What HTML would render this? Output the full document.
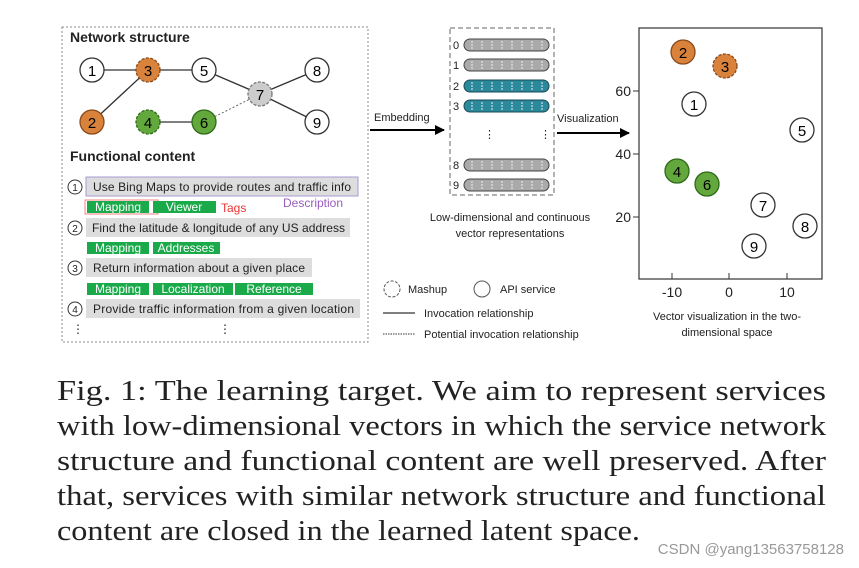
<!DOCTYPE html>
<html><head><meta charset="utf-8"><style>
body{margin:0;background:#fff}
svg{display:block}
.s{font-family:"Liberation Sans",sans-serif}
</style></head><body>
<svg width="859" height="568" viewBox="0 0 859 568" xmlns="http://www.w3.org/2000/svg" class="s">
<defs>
<marker id="ah" markerWidth="10" markerHeight="10" refX="9" refY="5" orient="auto" markerUnits="userSpaceOnUse"><path d="M0,0 L10,5 L0,10 z" fill="#000"/></marker>
</defs>
<rect x="62" y="27" width="306" height="315" fill="none" stroke="#888" stroke-dasharray="2,2"/>
<text x="70" y="42" font-size="14" font-weight="bold" fill="#222">Network structure</text>
<g stroke="#333" stroke-width="1.3">
<line x1="92" y1="70" x2="204" y2="70"/>
<line x1="148" y1="70" x2="92" y2="122"/>
<line x1="148" y1="122" x2="204" y2="122"/>
<line x1="204" y1="70" x2="260" y2="94"/>
<line x1="260" y1="94" x2="317" y2="70"/>
<line x1="260" y1="94" x2="317" y2="122"/>
</g>
<line x1="204" y1="122" x2="260" y2="94" stroke="#666" stroke-dasharray="2,2"/>
<g font-size="15" text-anchor="middle" stroke-width="1.3">
<circle cx="92" cy="70" r="12" fill="#fff" stroke="#333"/><text x="92" y="76">1</text>
<circle cx="148" cy="70" r="12" fill="#d9823b" stroke="#8a4a1a" stroke-dasharray="3,1.5"/><text x="148" y="76">3</text>
<circle cx="204" cy="70" r="12" fill="#fff" stroke="#333"/><text x="204" y="76">5</text>
<circle cx="260" cy="94" r="12" fill="#ccc" stroke="#777" stroke-dasharray="3,1.5"/><text x="260" y="100">7</text>
<circle cx="317" cy="70" r="12" fill="#fff" stroke="#333"/><text x="317" y="76">8</text>
<circle cx="317" cy="122" r="12" fill="#fff" stroke="#333"/><text x="317" y="128">9</text>
<circle cx="92" cy="122" r="12" fill="#d9823b" stroke="#8a4a1a"/><text x="92" y="128">2</text>
<circle cx="148" cy="122" r="12" fill="#62a83c" stroke="#2f6a18" stroke-dasharray="3,1.5"/><text x="148" y="128">4</text>
<circle cx="204" cy="122" r="12" fill="#62a83c" stroke="#2f6a18"/><text x="204" y="128">6</text>
</g>
<text x="70" y="161" font-size="14" font-weight="bold" fill="#222">Functional content</text>
<g font-size="12" fill="#222">
<circle cx="75" cy="187" r="7" fill="none" stroke="#333"/><text x="75" y="191" text-anchor="middle" font-size="10">1</text>
<rect x="86" y="177" width="272" height="19" fill="#ddd" stroke="#a89ad0"/>
<text x="93" y="191" textLength="258">Use Bing Maps to provide routes and traffic info</text>
<rect x="85" y="200" width="73" height="14" fill="none" stroke="#f08080"/>
<rect x="87" y="201" width="62" height="12" fill="#1aaa4a"/><text x="118" y="211" fill="#fff" text-anchor="middle">Mapping</text>
<rect x="153" y="201" width="63" height="12" fill="#1aaa4a"/><text x="184" y="211" fill="#fff" text-anchor="middle">Viewer</text>
<text x="221" y="212" fill="#e33">Tags</text>
<text x="283" y="207" fill="#9a5cc0">Description</text>
<circle cx="75" cy="228" r="7" fill="none" stroke="#333"/><text x="75" y="232" text-anchor="middle" font-size="10">2</text>
<rect x="86" y="218" width="264" height="19" fill="#ddd"/>
<text x="92" y="232" textLength="253">Find the latitude &amp; longitude of any US address</text>
<rect x="87" y="242" width="62" height="12" fill="#1aaa4a"/><text x="118" y="252" fill="#fff" text-anchor="middle">Mapping</text>
<rect x="153" y="242" width="67" height="12" fill="#1aaa4a"/><text x="186" y="252" fill="#fff" text-anchor="middle">Addresses</text>
<circle cx="75" cy="268" r="7" fill="none" stroke="#333"/><text x="75" y="272" text-anchor="middle" font-size="10">3</text>
<rect x="86" y="258" width="226" height="19" fill="#ddd"/>
<text x="93" y="272" textLength="212">Return information about a given place</text>
<rect x="87" y="283" width="62" height="12" fill="#1aaa4a"/><text x="118" y="293" fill="#fff" text-anchor="middle">Mapping</text>
<rect x="153" y="283" width="80" height="12" fill="#1aaa4a"/><text x="193" y="293" fill="#fff" text-anchor="middle">Localization</text>
<rect x="235" y="283" width="78" height="12" fill="#1aaa4a"/><text x="274" y="293" fill="#fff" text-anchor="middle">Reference</text>
<circle cx="75" cy="309" r="7" fill="none" stroke="#333"/><text x="75" y="313" text-anchor="middle" font-size="10">4</text>
<rect x="86" y="299" width="274" height="19" fill="#ddd"/>
<text x="93" y="313" textLength="261">Provide traffic information from a given location</text>
<text x="72" y="333" font-size="12">⋮</text><text x="219" y="333" font-size="12">⋮</text>
</g>
<line x1="370" y1="130" x2="444" y2="130" stroke="#000" stroke-width="2" marker-end="url(#ah)"/>
<text x="374" y="121" font-size="11" fill="#222">Embedding</text>
<line x1="557" y1="133" x2="629" y2="133" stroke="#000" stroke-width="2" marker-end="url(#ah)"/>
<text x="557" y="122" font-size="11" fill="#222">Visualization</text>
<rect x="450" y="28" width="104" height="167" fill="none" stroke="#666" stroke-dasharray="5,3"/>
<g font-size="11" fill="#222">
<text x="453" y="49">0</text><rect x="464" y="39" width="85" height="12" rx="6" fill="#aaa" stroke="#444"/>
<text x="453" y="69">1</text><rect x="464" y="59" width="85" height="12" rx="6" fill="#aaa" stroke="#444"/>
<text x="453" y="90">2</text><rect x="464" y="80" width="85" height="12" rx="6" fill="#2a8a9c" stroke="#1a4a55"/>
<text x="453" y="110">3</text><rect x="464" y="100" width="85" height="12" rx="6" fill="#2a8a9c" stroke="#1a4a55"/>
<text x="484" y="138">⋮</text><text x="540" y="138">⋮</text>
<text x="453" y="169">8</text><rect x="464" y="159" width="85" height="12" rx="6" fill="#aaa" stroke="#444"/>
<text x="453" y="189">9</text><rect x="464" y="179" width="85" height="12" rx="6" fill="#aaa" stroke="#444"/>
</g>
<g stroke="#eee" stroke-width="1" stroke-dasharray="2,1">
<path d="M472 41v8M482 41v8M492 41v8M502 41v8M512 41v8M522 41v8M532 41v8M542 41v8 M472 61v8M482 61v8M492 61v8M502 61v8M512 61v8M522 61v8M532 61v8M542 61v8 M472 82v8M482 82v8M492 82v8M502 82v8M512 82v8M522 82v8M532 82v8M542 82v8 M472 102v8M482 102v8M492 102v8M502 102v8M512 102v8M522 102v8M532 102v8M542 102v8 M472 161v8M482 161v8M492 161v8M502 161v8M512 161v8M522 161v8M532 161v8M542 161v8 M472 181v8M482 181v8M492 181v8M502 181v8M512 181v8M522 181v8M532 181v8M542 181v8"/>
</g>
<text x="510" y="221" font-size="11" fill="#222" text-anchor="middle">Low-dimensional and continuous</text>
<text x="510" y="237" font-size="11" fill="#222" text-anchor="middle">vector representations</text>
<circle cx="392" cy="289" r="8" fill="none" stroke="#555" stroke-dasharray="3,1.5"/>
<text x="408" y="293" font-size="11" fill="#222">Mashup</text>
<circle cx="482" cy="289" r="8" fill="none" stroke="#555"/>
<text x="500" y="293" font-size="11" fill="#222">API service</text>
<line x1="383" y1="313" x2="415" y2="313" stroke="#333" stroke-width="1.3"/>
<text x="424" y="317" font-size="11" fill="#222">Invocation relationship</text>
<line x1="383" y1="334" x2="415" y2="334" stroke="#333" stroke-dasharray="1.5,1"/>
<text x="424" y="338" font-size="11" fill="#222">Potential invocation relationship</text>
<rect x="639" y="28" width="183" height="251" fill="none" stroke="#333" stroke-width="1.2"/>
<g stroke="#333"><line x1="633" y1="91" x2="639" y2="91"/><line x1="633" y1="154" x2="639" y2="154"/><line x1="633" y1="217" x2="639" y2="217"/>
<line x1="672" y1="279" x2="672" y2="273"/><line x1="729" y1="279" x2="729" y2="273"/><line x1="787" y1="279" x2="787" y2="273"/></g>
<g font-size="14" fill="#222" text-anchor="end"><text x="631" y="96">60</text><text x="631" y="159">40</text><text x="631" y="222">20</text></g>
<g font-size="14" fill="#222" text-anchor="middle"><text x="672" y="297">-10</text><text x="729" y="297">0</text><text x="787" y="297">10</text></g>
<text x="727" y="320" font-size="11" fill="#222" text-anchor="middle">Vector visualization in the two-</text>
<text x="727" y="336" font-size="11" fill="#222" text-anchor="middle">dimensional space</text>
<g font-size="15" text-anchor="middle" stroke-width="1.3">
<circle cx="683" cy="52" r="12" fill="#d9823b" stroke="#8a4a1a"/><text x="683" y="58">2</text>
<circle cx="725" cy="66" r="12" fill="#d9823b" stroke="#8a4a1a" stroke-dasharray="3,1.5"/><text x="725" y="72">3</text>
<circle cx="694" cy="104" r="12" fill="#fff" stroke="#333"/><text x="694" y="110">1</text>
<circle cx="802" cy="130" r="12" fill="#fff" stroke="#333"/><text x="802" y="136">5</text>
<circle cx="677" cy="171" r="12" fill="#62a83c" stroke="#2f6a18"/><text x="677" y="177">4</text>
<circle cx="707" cy="184" r="12" fill="#62a83c" stroke="#2f6a18"/><text x="707" y="190">6</text>
<circle cx="763" cy="205" r="12" fill="#fff" stroke="#333"/><text x="763" y="211">7</text>
<circle cx="805" cy="226" r="12" fill="#fff" stroke="#333"/><text x="805" y="232">8</text>
<circle cx="754" cy="246" r="12" fill="#fff" stroke="#333"/><text x="754" y="252">9</text>
</g>
<g font-family="Liberation Serif, serif" font-size="29" fill="#222">
<text x="57" y="400" textLength="769" lengthAdjust="spacingAndGlyphs">Fig. 1: The learning target. We aim to represent services</text>
<text x="57" y="435" textLength="769" lengthAdjust="spacingAndGlyphs">with low-dimensional vectors in which the service network</text>
<text x="57" y="470" textLength="769" lengthAdjust="spacingAndGlyphs">structure and functional content are well preserved. After</text>
<text x="57" y="505" textLength="769" lengthAdjust="spacingAndGlyphs">that, services with similar network structure and functional</text>
<text x="57" y="540" textLength="583" lengthAdjust="spacingAndGlyphs">content are closed in the learned latent space.</text>
</g>
<text x="844" y="554" font-size="15" fill="#999" text-anchor="end">CSDN @yang13563758128</text>
</svg>
</body></html>
